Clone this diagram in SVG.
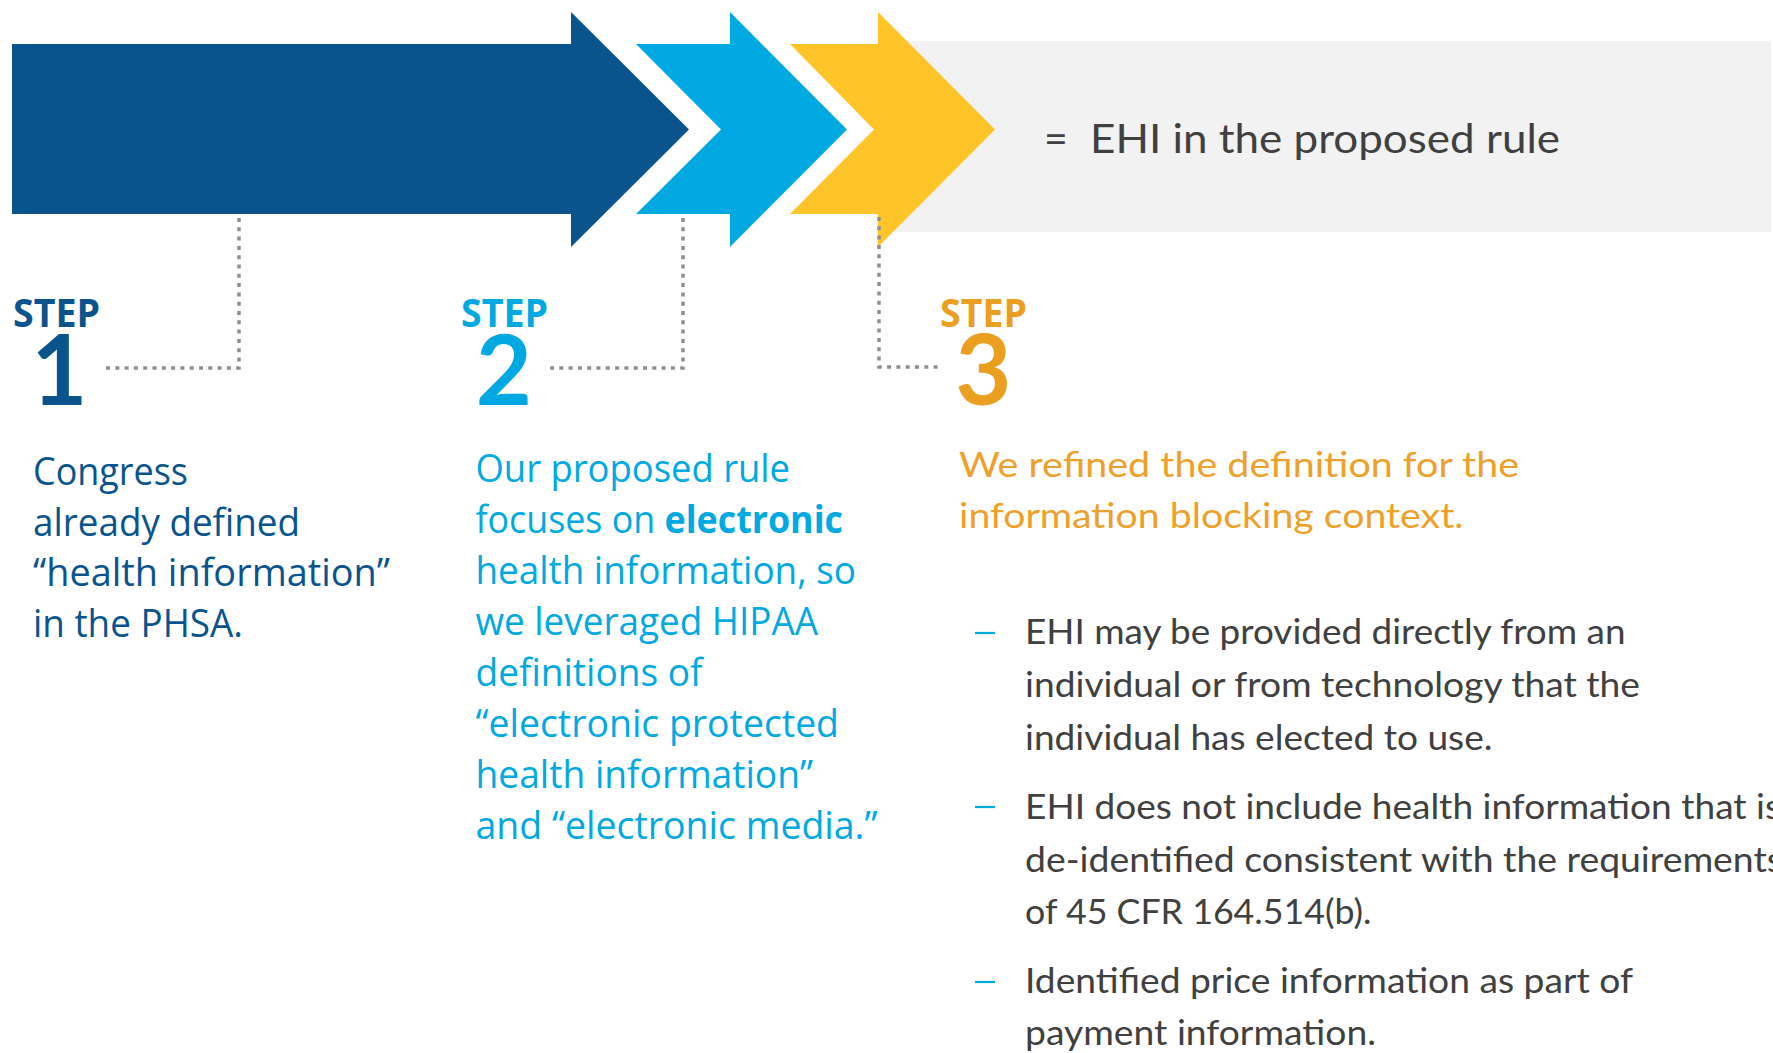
<svg xmlns="http://www.w3.org/2000/svg" width="1773" height="1053" viewBox="0 0 1773 1053">
<style>
.step{font-family:"Open Sans","DejaVu Sans",sans-serif;font-weight:700;font-size:39px}
.num{font-family:Lato,"DejaVu Sans",sans-serif;font-weight:700;font-size:97px;text-anchor:middle}
.body{font-family:"Open Sans","DejaVu Sans",sans-serif;font-size:38px}
.cal{font-family:Lato,"Open Sans",sans-serif;font-size:34px;fill:#404040}
.orng{font-family:Lato,"Open Sans",sans-serif;font-size:35px;fill:#EEA12A}
.dot{fill:none;stroke:#8E8E8E;stroke-width:3.5;stroke-dasharray:4 5.3}
.dash{stroke:#00A9E0;stroke-width:2.2}
</style>
<rect width="1773" height="1053" fill="#FFFFFF"/>
<g id="band">
<rect x="880" y="41" width="891" height="191" fill="#F2F2F2"/>
<polygon points="12,44 571,44 571,12 689,129.5 571,247 571,214 12,214" fill="#0A548E"/>
<polygon points="636,44 730,44 730,12 847,129.5 730,247 730,214 636,214 721,129.5" fill="#00A9E1"/>
<polygon points="790,44 878,44 878,12 995,129.5 878,247 878,214 790,214 874,129.5" fill="#FEC428"/>
<text x="1044" y="153" font-family="Lato,'Open Sans',sans-serif" font-size="41" fill="#404040">=<tspan x="1090" textLength="470" lengthAdjust="spacingAndGlyphs">EHI in the proposed rule</tspan></text>
</g>
<g id="connectors">
<path class="dot" d="M239 218 V368 H106"/>
<path class="dot" d="M683 218 V368 H549"/>
<path class="dot" d="M879 217 V367 H938"/>
</g>
<g id="step1" fill="#0A548E">
<text class="step" x="13" y="327" textLength="87" lengthAdjust="spacingAndGlyphs">STEP</text>
<text class="num" x="59.5" y="405">1</text>
<g class="body">
<text x="33" y="485" textLength="155" lengthAdjust="spacingAndGlyphs">Congress</text>
<text x="33" y="536" textLength="267" lengthAdjust="spacingAndGlyphs">already defined</text>
<text x="33" y="586" textLength="357" lengthAdjust="spacingAndGlyphs">“health information”</text>
<text x="33" y="637" textLength="210" lengthAdjust="spacingAndGlyphs">in the PHSA.</text>
</g>
</g>
<g id="step2" fill="#00A9E1">
<text class="step" x="461" y="327" textLength="87" lengthAdjust="spacingAndGlyphs">STEP</text>
<text class="num" x="504" y="405">2</text>
<g class="body">
<text x="475.5" y="481.5" textLength="314.5" lengthAdjust="spacingAndGlyphs">Our proposed rule</text>
<text x="475.5" y="532.5" textLength="367.5" lengthAdjust="spacingAndGlyphs">focuses on <tspan font-weight="700">electronic</tspan></text>
<text x="475.5" y="583.5" textLength="380.5" lengthAdjust="spacingAndGlyphs">health information, so</text>
<text x="475.5" y="634.5" textLength="342.5" lengthAdjust="spacingAndGlyphs">we leveraged HIPAA</text>
<text x="475.5" y="685.5" textLength="227" lengthAdjust="spacingAndGlyphs">definitions of</text>
<text x="475.5" y="736.5" textLength="363.5" lengthAdjust="spacingAndGlyphs">“electronic protected</text>
<text x="475.5" y="787.5" textLength="337.5" lengthAdjust="spacingAndGlyphs">health information”</text>
<text x="475.5" y="838.5" textLength="402" lengthAdjust="spacingAndGlyphs">and “electronic media.”</text>
</g>
</g>
<g id="step3">
<text class="step" x="940" y="327" textLength="87" lengthAdjust="spacingAndGlyphs" fill="#EA9F21">STEP</text>
<text class="num" x="983.5" y="405" fill="#EA9F21">3</text>
<text class="orng" x="959" y="477" textLength="560" lengthAdjust="spacingAndGlyphs">We refined the definition for the</text>
<text class="orng" x="959" y="528" textLength="504.5" lengthAdjust="spacingAndGlyphs">information blocking context.</text>
<line class="dash" x1="975" y1="633" x2="995" y2="633"/>
<line class="dash" x1="975" y1="807" x2="995" y2="807"/>
<line class="dash" x1="975" y1="982" x2="995" y2="982"/>
<text class="cal" x="1025" y="644" textLength="600.5" lengthAdjust="spacingAndGlyphs">EHI may be provided directly from an</text>
<text class="cal" x="1025" y="697" textLength="615" lengthAdjust="spacingAndGlyphs">individual or from technology that the</text>
<text class="cal" x="1025" y="750" textLength="467.5" lengthAdjust="spacingAndGlyphs">individual has elected to use.</text>
<text class="cal" x="1025" y="819" textLength="756" lengthAdjust="spacingAndGlyphs">EHI does not include health information that is</text>
<text class="cal" x="1025" y="872" textLength="758" lengthAdjust="spacingAndGlyphs">de-identified consistent with the requirements</text>
<text class="cal" x="1025" y="924" textLength="346.5" lengthAdjust="spacingAndGlyphs">of 45 CFR 164.514(b).</text>
<text class="cal" x="1025" y="993" textLength="608" lengthAdjust="spacingAndGlyphs">Identified price information as part of</text>
<text class="cal" x="1025" y="1045" textLength="351" lengthAdjust="spacingAndGlyphs">payment information.</text>
</g>
</svg>
